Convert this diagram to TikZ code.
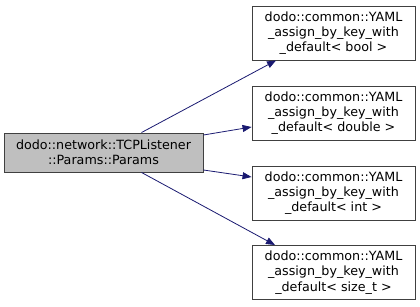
\documentclass[tikz,border=0pt]{standalone}
\usepackage{fontspec}
\setmainfont{DejaVu Sans}
\usetikzlibrary{arrows.meta}
\definecolor{edgeblue}{HTML}{191970}
\definecolor{boxline}{HTML}{404040}
\definecolor{boxgray}{HTML}{BFBFBF}
\begin{document}
\begin{tikzpicture}[x=1pt,y=-1pt,
  fn/.style={draw=boxline,line width=0.9pt,inner sep=0pt,align=center,
    font=\fontsize{12.7}{15.3}\selectfont},
  callee/.style={fn,fill=white,minimum width=163pt,minimum height=54pt},
  caller/.style={fn,fill=boxgray,minimum width=199pt,minimum height=39pt},
  call/.style={draw=edgeblue,line width=0.8pt,
    -{Triangle[length=9pt,width=7pt]}}]
\useasboundingbox (0,0) rectangle (420,307);
\node[caller] (src) at (103.5,152.5) {dodo::network::TCPListener\\::Params::Params};
\node[callee] (b) at (333.5,33) {dodo::common::YAML\\\_assign\_by\_key\_with\\\_default< bool >};
\node[callee] (d) at (333.5,113) {dodo::common::YAML\\\_assign\_by\_key\_with\\\_default< double >};
\node[callee] (i) at (333.5,193) {dodo::common::YAML\\\_assign\_by\_key\_with\\\_default< int >};
\node[callee] (s) at (333.5,272.5) {dodo::common::YAML\\\_assign\_by\_key\_with\\\_default< size\_t >};
\path[call] ([xshift=38pt]src.north) -- (b.south west -| 276,60);
\path[call] (src.east |- 0,135) -- (d.west |- 0,127);
\path[call] (src.east |- 0,170) -- (i.west |- 0,177);
\path[call] ([xshift=38pt]src.south) -- (s.north west -| 275,245);
\end{tikzpicture}
\end{document}
